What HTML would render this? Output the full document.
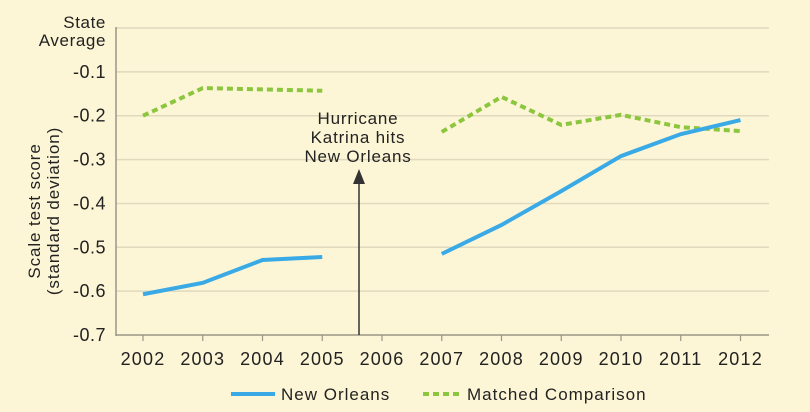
<!DOCTYPE html>
<html><head><meta charset="utf-8"><style>
body{margin:0;background:#fdf6d6;}
svg{display:block;font-family:"Liberation Sans",sans-serif;}
</style></head><body>
<svg id="c" width="810" height="412">
<rect width="810" height="412" fill="#fdf6d6"/>
<g id="grid"></g><g id="series"></g>
</svg>
<script>
const years=[2002,2003,2004,2005,2006,2007,2008,2009,2010,2011,2012];
const yTicks=[-0.1,-0.2,-0.3,-0.4,-0.5,-0.6,-0.7];
const noYears1=[2002,2003,2004,2005];
const noVals1=[-0.607,-0.581,-0.529,-0.522];
const noYears2=[2007,2008,2009,2010,2011,2012];
const noVals2=[-0.515,-0.449,-0.372,-0.292,-0.242,-0.21];
const mcYears1=[2002,2003,2004,2005];
const mcVals1=[-0.2,-0.137,-0.14,-0.143];
const mcYears2=[2007,2008,2009,2010,2011,2012];
const mcVals2=[-0.237,-0.157,-0.221,-0.198,-0.226,-0.235];
const NS='http://www.w3.org/2000/svg';
const svg=document.getElementById('c');
const X=y=>143+(y-2002)*59.75;
const Y=v=>28+(-v)*438.6;
function el(t,a,p,txt){const e=document.createElementNS(NS,t);for(const k in a)e.setAttribute(k,a[k]);if(txt!==undefined)e.textContent=txt;(p||svg).appendChild(e);return e;}
const g=document.getElementById('grid');
let l=el('line',{x1:116,x2:769,y1:Y(0),y2:Y(0),stroke:'#e0d9bd','stroke-width':1.5},g);


yTicks.forEach(v=>{
 if(v>-0.7){const gl=el('line',{x1:116,x2:769,y1:Y(v),y2:Y(v),stroke:'#e0d9bd','stroke-width':1.5},g);
 
 }
 const t=el('text',{x:106,y:Y(v)+6,'text-anchor':'end','font-size':18,'letter-spacing':0.5,fill:'#222'},g,String(v));
 
 
});
let t1=el('text',{x:106,y:28,'text-anchor':'end','font-size':17,'letter-spacing':0.6,fill:'#222'},g,'State');


let t2=el('text',{x:106,y:46,'text-anchor':'end','font-size':17,'letter-spacing':0.6,fill:'#222'},g,'Average');


let ax=el('line',{x1:116,x2:116,y1:27,y2:336,stroke:'#9a9686','stroke-width':1.5},g);


let bx=el('line',{x1:116,x2:769,y1:335,y2:335,stroke:'#9a9686','stroke-width':1.5},g);


years.forEach(yr=>{
 const tk=el('line',{x1:X(yr),x2:X(yr),y1:335,y2:341,stroke:'#9a9686','stroke-width':1.2},g);
 
 
 const tl=el('text',{x:X(yr),y:365,'text-anchor':'middle','font-size':18,'letter-spacing':1.2,fill:'#222'},g,String(yr));
 
 
});
const yt=el('text',{transform:'translate(40,211) rotate(-90)','text-anchor':'middle','font-size':17,'letter-spacing':0.9,fill:'#222'},g);


el('tspan',{x:0,dy:0},yt,'Scale test score');
el('tspan',{x:0,dy:19},yt,'(standard deviation)');
const s=document.getElementById('series');
function line(xs,vs,color,dash,name){
 const d=xs.map((x,i)=>(i?'L':'M')+X(x)+','+Y(vs[i])).join(' ');
 const p=el('path',{d:d,fill:'none',stroke:color,'stroke-width':4,'stroke-dasharray':dash||'none'},s);
 
 
}
line(mcYears1,mcVals1,'#8cc63f','6,4','matched-comparison-line-pre');
line(mcYears2,mcVals2,'#8cc63f','6,4','matched-comparison-line-post');
line(noYears1,noVals1,'#3aaae6','','new-orleans-line-pre');
line(noYears2,noVals2,'#3aaae6','','new-orleans-line-post');
const ar=el('line',{x1:359,x2:359,y1:335,y2:180,stroke:'#333','stroke-width':1.5},s);


const ah=el('path',{d:'M353,184 L359,169 L365,184 Z',fill:'#333'},s);


const an=el('text',{x:358,'text-anchor':'middle','font-size':17,'letter-spacing':0.8,fill:'#222'},s);


el('tspan',{x:358,y:124},an,'Hurricane');
el('tspan',{x:358,y:143},an,'Katrina hits');
el('tspan',{x:358,y:162},an,'New Orleans');
const lg=el('g',{},svg);


const l1=el('line',{x1:231,x2:275,y1:394,y2:394,stroke:'#3aaae6','stroke-width':4},lg);


const lt1=el('text',{x:281,y:400,'font-size':17,'letter-spacing':1,fill:'#222'},lg,'New Orleans');


const l2=el('line',{x1:423,x2:462,y1:394,y2:394,stroke:'#8cc63f','stroke-width':4,'stroke-dasharray':'6,4'},lg);


const lt2=el('text',{x:467,y:400,'font-size':17,'letter-spacing':1,fill:'#222'},lg,'Matched Comparison');


</script>
</body></html>
